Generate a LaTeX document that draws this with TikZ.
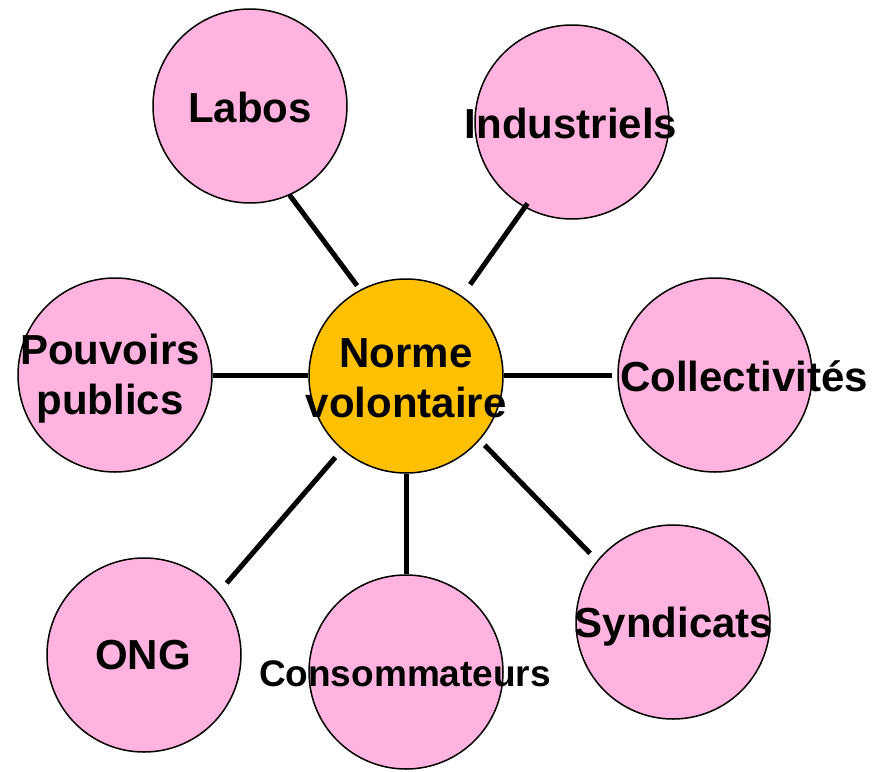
\documentclass[tikz,border=0pt]{standalone}
\usepackage{fontspec}
\setmainfont{Liberation Sans}
\definecolor{rosebulle}{RGB}{255,179,222}
\definecolor{orangenorme}{RGB}{255,192,0}
\begin{document}
\begin{tikzpicture}[x=1pt, y=-1pt,
  bulle/.style={circle, draw, line width=1.5pt, fill=rosebulle, minimum size=194pt, inner sep=0pt},
  lien/.style={line width=5pt},
  etiquette/.style={font=\bfseries\fontsize{42}{50}\selectfont, align=center, inner sep=0pt}]

  \useasboundingbox (0,0) rectangle (880,771);

  % Draw the pink circles of the partners
  \foreach \nom/\x/\y in {labos/250/106, industriels/572/122, pouvoirs/115/375,
    collectivites/715/375, ong/144/655, consommateurs/406/672, syndicats/673/622} {
    \node[bulle] (\nom) at (\x,\y) {};
  }

  % Draw the central circle
  \node[bulle, fill=orangenorme] (norme) at (406,376) {};

  % Links from the centre to each partner
  \draw[lien, shorten >=5pt] (labos.-66) -- (norme.118);
  \draw[lien, shorten <=14pt, shorten >=-5pt] (norme.55) -- (industriels.241);
  \draw[lien] (pouvoirs.east) -- (pouvoirs.east -| norme.west);
  \draw[lien, shorten >=5pt] (collectivites.west -| norme.east) -- (collectivites.west);
  \draw[lien, shorten <=10pt, shorten >=12pt] (norme.229) -- (ong.40);
  \draw[lien] (norme.south) -- (consommateurs.north);
  \draw[lien, shorten <=7pt, shorten >=10pt] (norme.-41) -- (syndicats.141);

  % Labels
  \node[etiquette] (labos-t) at (250,107) {Labos};
  \node[etiquette] (industriels-t) at (571,123) {Industriels};
  \node[etiquette] (pouvoirs-t) at (110,379) {Pouvoirs\\publics};
  \node[etiquette] (norme-t) at (406,378) {Norme\\volontaire};
  \node[etiquette] (collectivites-t) at (744,376) {Collectivités};
  \node[etiquette] (ong-t) at (143,655) {ONG};
  \node[etiquette, font=\bfseries\fontsize{37}{44}\selectfont] (consommateurs-t) at (405,674) {Consommateurs};
  \node[etiquette] (syndicats-t) at (674,627) {Syndicats};
\end{tikzpicture}
\end{document}
